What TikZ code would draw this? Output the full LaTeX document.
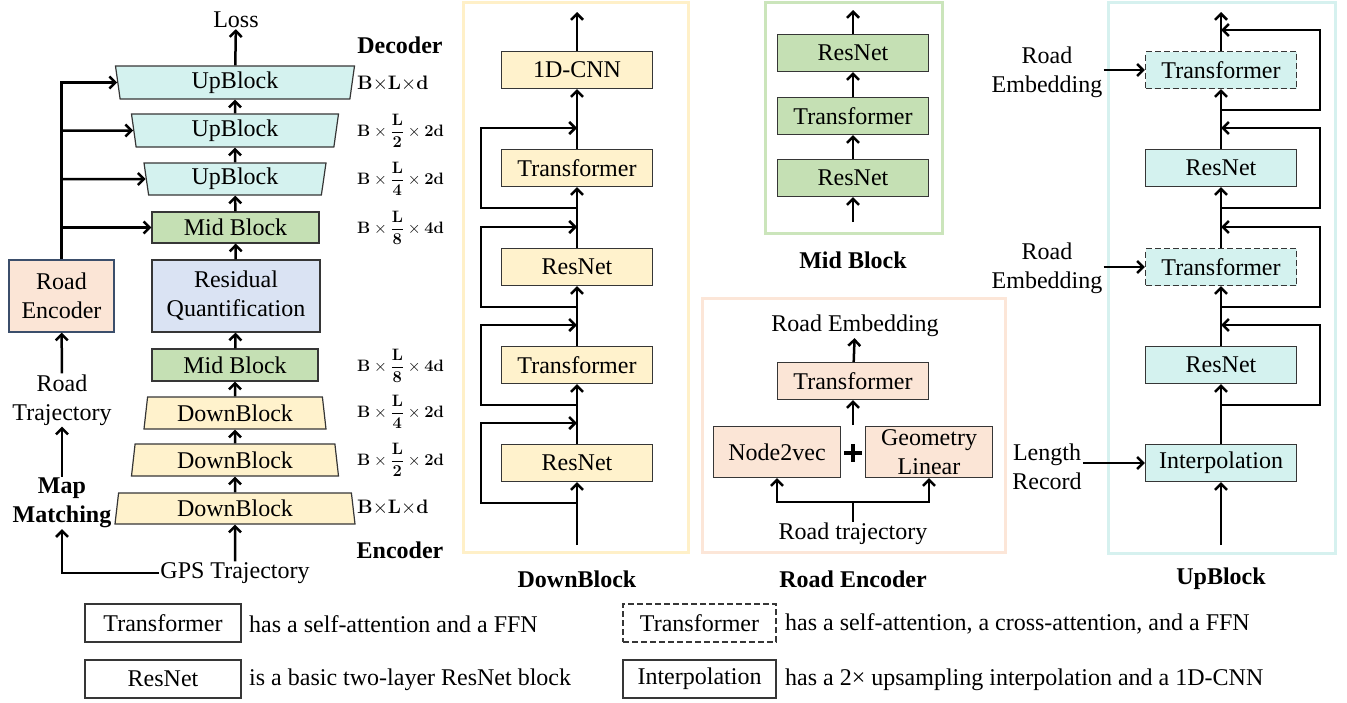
\RequirePackage{fix-cm}
\documentclass[tikz,border=0pt]{standalone}
\usepackage[no-math]{fontspec}
\setmainfont{Liberation Serif}
\usepackage{amsmath}
\usepackage{xcolor}
\usepackage{tikz}
\usetikzlibrary{positioning, arrows.meta, calc, shapes.geometric}
\definecolor{boxgray}{HTML}{363636}
\definecolor{upcyan}{HTML}{D4F2EF}
\definecolor{downgold}{HTML}{FFF2CC}
\definecolor{midgreen}{HTML}{C5E0B4}
\definecolor{rqblue}{HTML}{DAE3F3}
\definecolor{encpeach}{HTML}{FBE5D6}
\definecolor{encline}{HTML}{3B4E6B}
\definecolor{uppanel}{HTML}{D6F1EF}
\definecolor{downpanel}{HTML}{FFF0C8}
\definecolor{midpanel}{HTML}{CBE5BB}
\definecolor{encpanel}{HTML}{FCE6D8}

\tikzset{
  txt/.style={font=\fontsize{24}{29}\selectfont, inner sep=1pt},
  blk/.style={txt, draw=boxgray, line width=1.2pt, minimum width=151pt, minimum height=37pt, inner sep=0pt},
  trap/.style={txt, trapezium, trapezium angle=78, trapezium stretches body, draw=boxgray,
               line width=1.2pt, inner sep=0pt, minimum height=33pt},
  arr/.style={line width=2.5pt, -{Straight Barb[length=6pt,width=12pt]}},
  pipe/.style={line width=2.5pt},
  panel/.style={line width=3pt},
  title/.style={font=\fontsize{24}{29}\selectfont\bfseries},
  dimbig/.style={anchor=west, inner sep=0pt, font=\fontsize{19.5}{22}\selectfont},
  dimfrac/.style={anchor=west, inner sep=0pt, font=\fontsize{16.5}{20}\selectfont},
  legbox/.style={txt, draw=boxgray, line width=1.2pt, minimum height=38pt, inner sep=0pt},
  plussign/.style={minimum size=18pt, inner sep=0pt,
    path picture={\draw[line width=4pt] (path picture bounding box.north) -- (path picture bounding box.south)
                  (path picture bounding box.west) -- (path picture bounding box.east);}},
}

\begin{document}
\begin{tikzpicture}[x=1pt, y=-1pt]
  \useasboundingbox (0,0) rectangle (1347,702);

  % encoder / decoder stack
  \node[txt] (loss) at (236,20) {Loss};
  \node[trap, shape border rotate=180, fill=upcyan, minimum width=239pt] (u1) at (235,82.5) {UpBlock};
  \node[trap, shape border rotate=180, fill=upcyan, minimum width=207pt] (u2) at (235,130.5) {UpBlock};
  \node[trap, shape border rotate=180, fill=upcyan, minimum width=182pt, minimum height=32pt] (u3) at (235,179) {UpBlock};
  \node[blk, fill=midgreen, minimum width=167pt, minimum height=31pt] (mid1) at (235.5,227.5) {Mid Block};
  \node[blk, fill=rqblue, minimum width=168pt, minimum height=72pt, align=center] (rq) at (236,296) {Residual\\Quantification};
  \node[blk, fill=midgreen, minimum width=166pt, minimum height=32pt] (mid2) at (235,365) {Mid Block};
  \node[trap, fill=downgold, minimum width=182pt, minimum height=32pt] (d3) at (235,413) {DownBlock};
  \node[trap, fill=downgold, minimum width=207pt, minimum height=32pt] (d2) at (235,460) {DownBlock};
  \node[trap, fill=downgold, minimum width=240pt, minimum height=31pt] (d1) at (235,508.5) {DownBlock};
  \node[txt] (gps) at (235,573) {GPS Trajectory};

  \draw[arr] (gps) -- (d1);
  \draw[arr] (d1) -- (d2);
  \draw[arr] (d2) -- (d3);
  \draw[arr] (d3) -- (mid2);
  \draw[arr] (mid2) -- (rq);
  \draw[arr] (rq) -- (mid1);
  \draw[arr] (mid1) -- (u3);
  \draw[arr] (u3) -- (u2);
  \draw[arr] (u2) -- (u1);
  \draw[arr] (u1) -- (loss);

  % road branch
  \node[txt, font=\fontsize{24}{29}\selectfont\bfseries, align=center] (mm) at (62,503) {Map\\Matching};
  \node[txt, align=center] (rt) at (62,400) {Road\\Trajectory};
  \node[blk, fill=encpeach, draw=encline, minimum width=105pt, minimum height=72pt, align=center] (re) at (61.5,296) {Road\\Encoder};
  \draw[arr] (gps) -| (mm);
  \draw[arr] (mm) -- (rt);
  \draw[arr] (rt) -- (re);
  \draw[arr] (re.north) |- (u1);
  \draw[arr] (re.north |- u2) -- (u2);
  \draw[arr] (re.north |- u3) -- (u3);
  \draw[arr] (re.north |- mid1) -- (mid1);

  % shapes
  \node[title] (dec) at (400,45) {Decoder};
  \node[title] (enc) at (400,550) {Encoder};
  \node[dimbig] (s1) at (357,84) {$\mathbf{B{\times}L{\times}d}$};
  \node[dimfrac] (s2) at (357,131) {$\mathbf{B}\times\dfrac{\mathbf{L}}{\mathbf{2}}\times\mathbf{2d}$};
  \node[dimfrac] (s3) at (357,179) {$\mathbf{B}\times\dfrac{\mathbf{L}}{\mathbf{4}}\times\mathbf{2d}$};
  \node[dimfrac] (s4) at (357,228) {$\mathbf{B}\times\dfrac{\mathbf{L}}{\mathbf{8}}\times\mathbf{4d}$};
  \node[dimfrac] (s5) at (357,366) {$\mathbf{B}\times\dfrac{\mathbf{L}}{\mathbf{8}}\times\mathbf{4d}$};
  \node[dimfrac] (s6) at (357,412) {$\mathbf{B}\times\dfrac{\mathbf{L}}{\mathbf{4}}\times\mathbf{2d}$};
  \node[dimfrac] (s7) at (357,460) {$\mathbf{B}\times\dfrac{\mathbf{L}}{\mathbf{2}}\times\mathbf{2d}$};
  \node[dimbig] (s8) at (357,508) {$\mathbf{B{\times}L{\times}d}$};

  % DownBlock
  \draw[panel, draw=downpanel] (463,2) rectangle (688,552);
  \node[blk, fill=downgold] (cnn) at (577,70) {1D-CNN};
  \node[blk, fill=downgold] (dt1) at (577,168) {Transformer};
  \node[blk, fill=downgold] (dr1) at (577,267) {ResNet};
  \node[blk, fill=downgold] (dt2) at (577,365) {Transformer};
  \node[blk, fill=downgold] (dr2) at (577,463) {ResNet};
  \coordinate (dbin) at (577,545);
  \coordinate (dbout) at (577,12);
  \draw[arr] (dbin) -- (dr2);
  \draw[arr] (dr2) -- (dt2);
  \draw[arr] (dt2) -- (dr1);
  \draw[arr] (dr1) -- (dt1);
  \draw[arr] (dt1) -- (cnn);
  \draw[arr] (cnn) -- (dbout);
  \foreach \b in {dt1,dr1,dt2,dr2}
    \draw[arr] ($(\b)+(0,40)$) -- ++(-96,0) |- ($(\b)+(0,-40)$);
  \node[title] (tdown) at (577,579) {DownBlock};

  % Mid Block
  \draw[panel, draw=midpanel] (765,2) rectangle (942,233);
  \node[blk, fill=midgreen] (mr2) at (853,53) {ResNet};
  \node[blk, fill=midgreen] (mt) at (853,116) {Transformer};
  \node[blk, fill=midgreen] (mr1) at (853,178) {ResNet};
  \coordinate (mbin) at (853,222);
  \coordinate (mbout) at (853,10);
  \draw[arr] (mbin) -- (mr1);
  \draw[arr] (mr1) -- (mt);
  \draw[arr] (mt) -- (mr2);
  \draw[arr] (mr2) -- (mbout);
  \node[title] (tmid) at (853,260) {Mid Block};

  % Road Encoder
  \draw[panel, draw=encpanel] (702,298) rectangle (1005,552);
  \node[txt] (emb) at (855,326) {Road Embedding};
  \node[blk, fill=encpeach] (ret) at (853,381) {Transformer};
  \node[blk, fill=encpeach, minimum width=127pt, minimum height=51pt] (n2v) at (777,452) {Node2vec};
  \node[blk, fill=encpeach, minimum width=127pt, minimum height=51pt, align=center] (geo) at (929,452) {Geometry\\Linear};
  \node[plussign] (plus) at (853,453) {};
  \node[txt] (rtj) at (853,534) {Road trajectory};
  \coordinate (sum) at (853,425);
  \coordinate (fork) at (853,502);
  \draw[arr] (sum) -- (ret);
  \draw[arr] (ret) -- (emb);
  \draw[pipe] (rtj) -- (fork);
  \draw[arr] (fork) -| (n2v);
  \draw[arr] (fork) -| (geo);
  \node[title] (tenc) at (853,579) {Road Encoder};

  % UpBlock
  \draw[panel, draw=uppanel] (1108,2) rectangle (1335,553);
  \node[blk, fill=upcyan, dashed, dash pattern=on 6pt off 3pt] (ut2) at (1221,70) {Transformer};
  \node[blk, fill=upcyan] (ur2) at (1221,168) {ResNet};
  \node[blk, fill=upcyan, dashed, dash pattern=on 6pt off 3pt] (ut1) at (1221,267) {Transformer};
  \node[blk, fill=upcyan] (ur1) at (1221,365) {ResNet};
  \node[blk, fill=upcyan] (ip) at (1221,463) {Interpolation};
  \coordinate (ubin) at (1221,545);
  \coordinate (ubout) at (1221,12);
  \draw[arr] (ubin) -- (ip);
  \draw[arr] (ip) -- (ur1);
  \draw[arr] (ur1) -- (ut1);
  \draw[arr] (ut1) -- (ur2);
  \draw[arr] (ur2) -- (ut2);
  \draw[arr] (ut2) -- (ubout);
  \foreach \b in {ut2,ur2,ut1,ur1}
    \draw[arr] ($(\b)+(0,40)$) -- ++(99,0) |- ($(\b)+(0,-40)$);
  \node[txt, align=center] (e1) at (1047,72) {Road\\Embedding};
  \node[txt, align=center] (e2) at (1047,268) {Road\\Embedding};
  \node[txt, align=center] (lr) at (1047,467) {Length\\Record};
  \draw[arr] (e1.east |- ut2) -- (ut2);
  \draw[arr] (e2.east |- ut1) -- (ut1);
  \draw[arr] (lr.east |- ip) -- (ip);
  \node[title] (tup) at (1221,579) {UpBlock};

  % legend
  \node[legbox, minimum width=156pt] (lg1) at (163,623) {Transformer};
  \node[txt, anchor=west] (lt1) at (248,624) {has a self-attention and a FFN};
  \node[legbox, minimum width=156pt] (lg2) at (163,679) {ResNet};
  \node[txt, anchor=west] (lt2) at (248,680) {is a basic two-layer ResNet block};
  \node[legbox, minimum width=153pt, dashed, dash pattern=on 6pt off 3pt] (lg3) at (699.5,623) {Transformer};
  \node[txt, anchor=west] (lt3) at (784,624) {has a self-attention, a cross-attention, and a FFN};
  \node[legbox, minimum width=153pt] (lg4) at (699.5,679) {Interpolation};
  \node[txt, anchor=west] (lt4) at (784,680) {has a 2× upsampling interpolation and a 1D-CNN};
\end{tikzpicture}
\end{document}
